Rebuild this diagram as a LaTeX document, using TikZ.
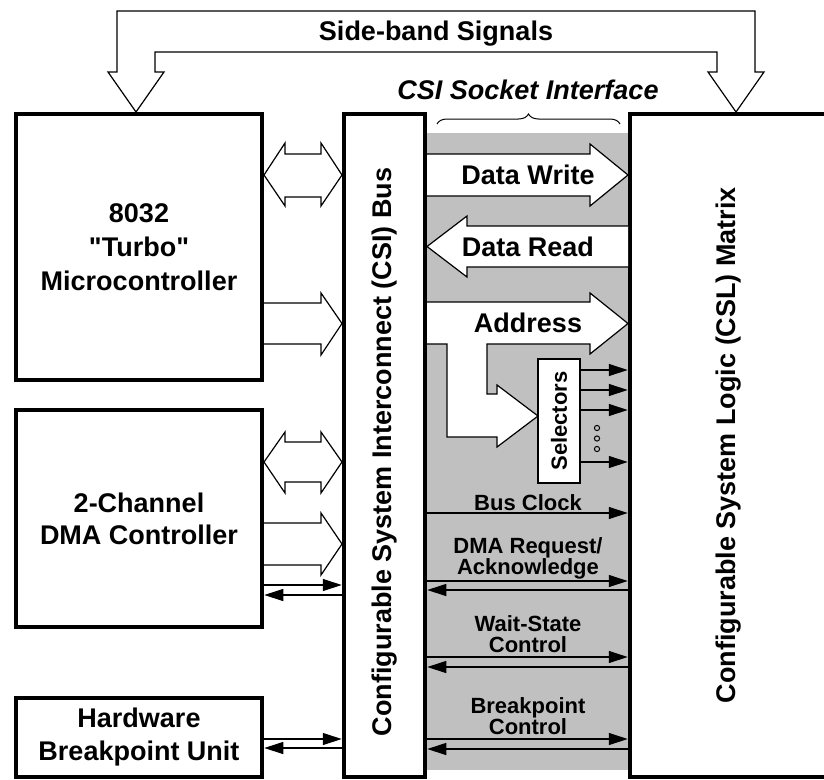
\documentclass[tikz,border=0pt]{standalone}
\usepackage{fontspec}
\setmainfont{Liberation Sans}[Ligatures=TeXOff]
\usetikzlibrary{arrows.meta,decorations.pathreplacing}
\definecolor{csigray}{RGB}{192,192,192}
\newcommand\bigfnt{\bfseries\fontsize{27}{34}\selectfont}
\newcommand\smallfnt{\bfseries\fontsize{22}{21}\selectfont}
\tikzset{
  box/.style={draw, line width=4.5pt, fill=white, align=center, font=\bigfnt, inner sep=0pt},
  blk/.style={draw, line width=1.2pt, fill=white, line join=miter},
  sig/.style={line width=1.2pt, -{Triangle[length=19pt,width=12pt]}},
  lbl/.style={font=\smallfnt, align=center, inner sep=0pt},
  rlbl/.style={font=\bigfnt, rotate=90, inner sep=0pt},
}
\begin{document}
\begin{tikzpicture}[x=1pt,y=-1pt]
\useasboundingbox (0,0) rectangle (824,779);
% gray socket area
\fill[csigray] (425,133) rectangle (630,770);
% boxes
\node[box, minimum width=246, minimum height=266] (mcu) at (139,247) {8032\\"Turbo"\\Microcontroller};
\node[box, minimum width=246, minimum height=217, font=\bfseries\fontsize{27}{32}\selectfont] (dma) at (139,518.5) {2-Channel\\DMA Controller};
\node[box, minimum width=246, minimum height=79, font=\bfseries\fontsize{27}{33}\selectfont] (hbu) at (139,737.5) {Hardware\\Breakpoint Unit};
\node[box, minimum width=81, minimum height=663] (bus) at (384.5,445.5) {};
\node[box, minimum width=200, minimum height=663] (csl) at (730,445.5) {};
\node[rlbl] (busl) at (385,452) {Configurable System Interconnect (CSI) Bus};
\node[rlbl] (csll) at (729,445) {Configurable System Logic (CSL) Matrix};
% side-band signals
\draw[blk] (136,112) -- (108,72) -- (117,72) -- (117,11) -- (755,11) -- (755,72) -- (764,72) -- (736,112) -- (708,72) -- (717,72) -- (717,52) -- (155,52) -- (155,72) -- (164,72) -- cycle;
\node[font=\bigfnt, anchor=base, inner sep=0pt] (sbs) at (436,40) {Side-band Signals};
% CSI socket interface
\node[font=\bfseries\itshape\fontsize{27}{30}\selectfont, anchor=base, inner sep=0pt] (csi) at (528,99) {CSI Socket Interface};
\draw[line width=1pt, decorate, decoration={brace, amplitude=10pt}] (437,124) -- (620,124);
% left block arrows
\draw[blk] (264,175) -- (285,143) -- (285,154) -- (321,154) -- (321,143) -- (342,175) -- (321,206) -- (321,197) -- (285,197) -- (285,206) -- cycle;
\draw[blk] (264,303) -- (321,303) -- (321,293) -- (342,323.5) -- (321,355) -- (321,344) -- (264,344);
\draw[blk] (264,462) -- (285,432) -- (285,442) -- (321,442) -- (321,432) -- (342,462) -- (321,493) -- (321,482) -- (285,482) -- (285,493) -- cycle;
\draw[blk] (264,523) -- (321,523) -- (321,513) -- (342,544) -- (321,575) -- (321,565) -- (264,565);
% left thin arrows
\draw[sig] (dma.east |- 0,585) -- (bus.west |- 0,585);
\draw[sig] (bus.west |- 0,595) -- (dma.east |- 0,595);
\draw[sig] (hbu.east |- 0,739) -- (bus.west |- 0,739);
\draw[sig] (bus.west |- 0,748) -- (hbu.east |- 0,748);
% data arrows
\draw[blk] (427,154) -- (590,154) -- (590,144) -- (628,175) -- (590,206) -- (590,196) -- (427,196);
\node[font=\bigfnt, inner sep=0pt] (dw) at (528,175) {Data Write};
\draw[blk] (628,226) -- (467,226) -- (467,216) -- (427,246.5) -- (467,277) -- (467,267) -- (628,267);
\node[font=\bigfnt, inner sep=0pt] (dr) at (528,246.5) {Data Read};
\draw[blk] (427,302) -- (590,302) -- (590,293) -- (628,323.5) -- (590,354) -- (590,344) -- (487,344) -- (487,394) -- (497,394) -- (497,385) -- (538,416) -- (497,447) -- (497,437) -- (447,437) -- (447,344) -- (427,344);
\node[font=\bigfnt, inner sep=0pt] (ad) at (528,323) {Address};
% selectors
\node[draw, line width=1.2pt, fill=white, rotate=90, minimum width=124, minimum height=42, font=\smallfnt, inner sep=0pt] (sel) at (559,421) {Selectors};
\foreach \yy in {370,390,410,462} \draw[sig] (sel.south |- 0,\yy) -- (csl.west |- 0,\yy);
\foreach \yy in {428,438.5,449} \draw[line width=1pt] (597,\yy) circle[radius=2.6];
% control signals
\node[lbl, anchor=base] (bc) at (528,510) {Bus Clock};
\draw[sig] (bus.east |- 0,513) -- (csl.west |- 0,513);
\node[lbl, anchor=base] (dmar) at (528,574) {DMA Request/\\Acknowledge};
\draw[sig] (bus.east |- 0,581) -- (csl.west |- 0,581);
\draw[sig] (csl.west |- 0,590) -- (bus.east |- 0,590);
\node[lbl, anchor=base] (ws) at (528,652) {Wait-State\\Control};
\draw[sig] (bus.east |- 0,657) -- (csl.west |- 0,657);
\draw[sig] (csl.west |- 0,667) -- (bus.east |- 0,667);
\node[lbl, anchor=base] (bp) at (528,734) {Breakpoint\\Control};
\draw[sig] (bus.east |- 0,739) -- (csl.west |- 0,739);
\draw[sig] (csl.west |- 0,749) -- (bus.east |- 0,749);
\end{tikzpicture}
\end{document}
